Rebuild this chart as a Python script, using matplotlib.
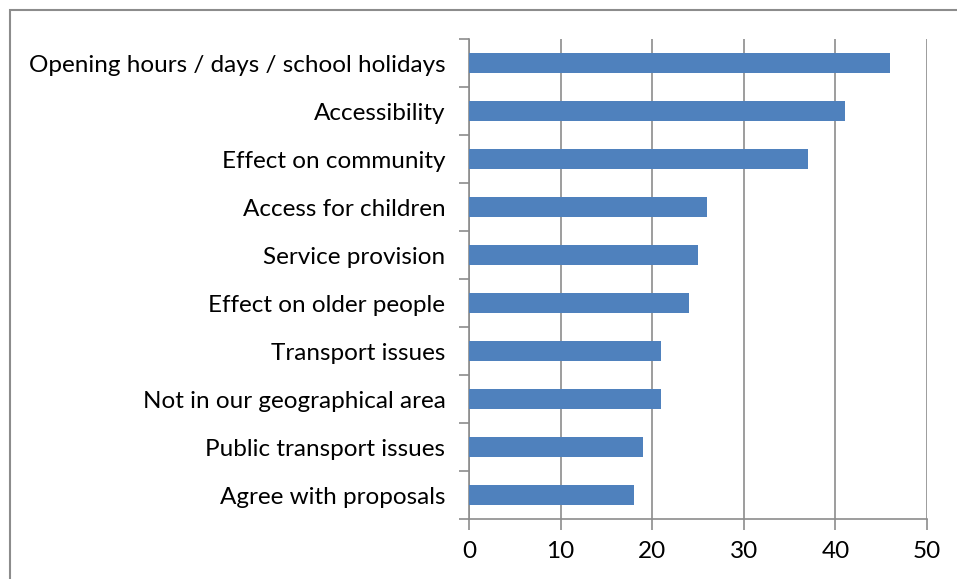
import matplotlib.pyplot as plt
import numpy as np
from matplotlib.patches import Rectangle

categories = [
    "Opening hours / days / school holidays",
    "Accessibility",
    "Effect on community",
    "Access for children",
    "Service provision",
    "Effect on older people",
    "Transport issues",
    "Not in our geographical area",
    "Public transport issues",
    "Agree with proposals",
]
values = [46, 41, 37, 26, 25, 24, 21, 21, 19, 18]
x_ticks = [0, 10, 20, 30, 40, 50]

plt.rcParams['font.family'] = ['Lato', 'DejaVu Sans']

fig = plt.figure(figsize=(9.57, 5.79), dpi=100)
ax = fig.add_axes([469 / 957, 1 - 519 / 579, (927 - 469) / 957, (519 - 39) / 579])

# outer chart frame
fig.patches.append(Rectangle((10 / 957, -0.1), 1.0, 1 - 10 / 579 + 0.1,
                             transform=fig.transFigure, fill=False,
                             edgecolor='#8c8c8c', linewidth=1.5))

pos = np.arange(len(categories))[::-1]
ax.barh(pos, values, height=0.4, color='#4f81bd', zorder=3)

ax.set_xlim(0, 50)
ax.set_ylim(-0.5, len(categories) - 0.5)
ax.set_xticks(x_ticks)
ax.set_xticklabels([str(t) for t in x_ticks], fontsize=17.5)
ax.set_yticks(pos)
ax.set_yticklabels(categories, fontsize=17.5)
ax.set_yticks(np.arange(-0.5, len(categories), 1), minor=True)
ax.tick_params(axis='y', which='major', length=0, pad=17)
ax.tick_params(axis='y', which='minor', length=7, width=1.2, color='#8c8c8c')
ax.tick_params(axis='x', length=8, width=1.2, color='#8c8c8c', pad=8)

ax.grid(axis='x', color='#8c8c8c', linewidth=1.2, zorder=0)
for s in ['top', 'right']:
    ax.spines[s].set_visible(False)
for s in ['left', 'bottom']:
    ax.spines[s].set_color('#8c8c8c')
    ax.spines[s].set_linewidth(1.2)

fig.savefig('out.png', dpi=100)
